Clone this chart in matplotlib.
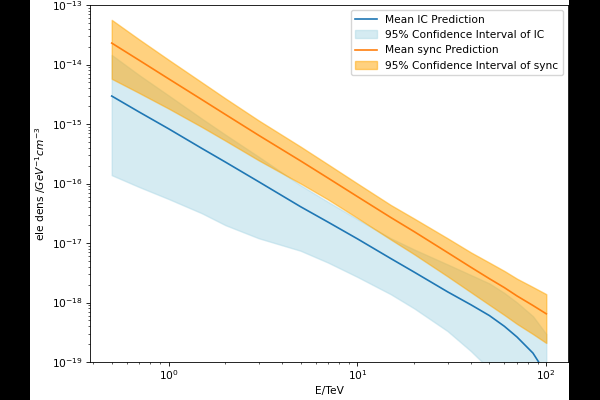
import numpy as np
import matplotlib
matplotlib.use('Agg')
import matplotlib.pyplot as plt
from matplotlib.patches import Rectangle

# Energy grid (TeV)
energy = [0.5, 0.7, 1, 1.5, 2, 3, 5, 7, 10, 15, 20, 30, 40, 50, 60, 70, 85, 100]

# log10 of electron density
ic_mean_log = [-14.53, -14.80, -15.08, -15.41, -15.64, -15.97, -16.39, -16.65, -16.93,
               -17.26, -17.49, -17.82, -18.04, -18.22, -18.40, -18.58, -18.85, -19.20]
ic_upper_log = [-13.84, -14.18, -14.52, -14.91, -15.18, -15.55, -16.03, -16.31, -16.60,
                -16.92, -17.11, -17.36, -17.54, -17.68, -17.84, -18.00, -18.23, -18.53]
ic_lower_log = [-15.86, -16.06, -16.26, -16.50, -16.70, -16.92, -17.13, -17.33, -17.57,
                -17.86, -18.10, -18.48, -18.82, -19.12, -19.35, -19.55, -19.88, -20.30]

sync_mean_log = [-13.64, -13.93, -14.24, -14.59, -14.84, -15.19, -15.62, -15.91, -16.22,
                 -16.57, -16.81, -17.16, -17.41, -17.60, -17.75, -17.89, -18.05, -18.19]
sync_upper_log = [-13.25, -13.58, -13.92, -14.30, -14.57, -14.94, -15.38, -15.68, -16.00,
                  -16.36, -16.59, -16.92, -17.16, -17.33, -17.47, -17.60, -17.74, -17.86]
sync_lower_log = [-14.24, -14.48, -14.74, -15.05, -15.28, -15.61, -16.00, -16.27, -16.58,
                  -16.94, -17.19, -17.56, -17.83, -18.04, -18.21, -18.36, -18.53, -18.68]

E = np.array(energy)
ic_mean = 10.0 ** np.array(ic_mean_log)
ic_up = 10.0 ** np.array(ic_upper_log)
ic_lo = 10.0 ** np.array(ic_lower_log)
sy_mean = 10.0 ** np.array(sync_mean_log)
sy_up = 10.0 ** np.array(sync_upper_log)
sy_lo = 10.0 ** np.array(sync_lower_log)

# the source image was a scaled-down default figure
plt.rcParams.update({
    'font.size': 7.7,
    'xtick.major.size': 2.6, 'ytick.major.size': 2.6,
    'xtick.minor.size': 1.5, 'ytick.minor.size': 1.5,
    'xtick.major.pad': 2.2, 'ytick.major.pad': 2.6,
    'xtick.major.width': 0.6, 'ytick.major.width': 0.6,
    'xtick.minor.width': 0.45, 'ytick.minor.width': 0.45,
    'axes.linewidth': 0.6,
    'axes.labelpad': 2.6,
})

fig = plt.figure(figsize=(6, 4), dpi=100)
fig.patch.set_facecolor('black')
# white canvas of the original image, padded with black at both sides
fig.add_artist(Rectangle((30 / 600, 0), 539 / 600, 1, transform=fig.transFigure,
                         facecolor='white', edgecolor='none', zorder=-10))

ax = fig.add_axes([90 / 600, 38 / 400, 478 / 600, 357 / 400])

ax.plot(E, ic_mean, color='#1f77b4', lw=1.2, label='Mean IC Prediction')
ax.fill_between(E, ic_lo, ic_up, color='lightblue', alpha=0.5,
                label='95% Confidence Interval of IC')
ax.plot(E, sy_mean, color='#ff7f0e', lw=1.2, label='Mean sync Prediction')
ax.fill_between(E, sy_lo, sy_up, color='orange', alpha=0.5,
                label='95% Confidence Interval of sync')

ax.set_xscale('log')
ax.set_yscale('log')
ax.set_ylim(1e-19, 1e-13)
ax.set_xlabel('E/TeV')
ax.set_ylabel('ele dens /$GeV^{-1}cm^{-3}$')
ax.legend(loc='upper right')

fig.savefig('out.png', dpi=100, facecolor=fig.get_facecolor())
